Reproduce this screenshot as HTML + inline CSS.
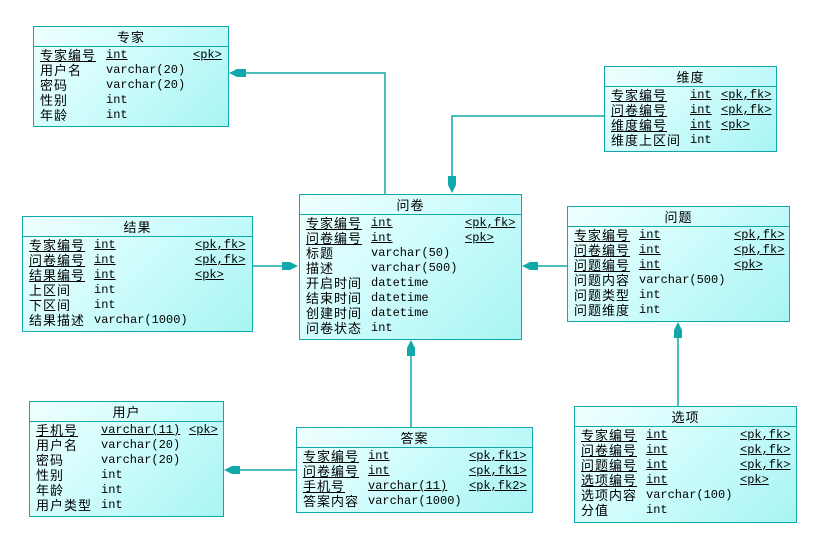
<!DOCTYPE html>
<html><head><meta charset="utf-8">
<style>
body{margin:0;width:820px;height:545px;background:#fff;position:relative;overflow:hidden;font-family:"Liberation Mono","Noto Sans CJK SC",monospace;font-size:12px;color:#000}
.b{position:absolute;border:1px solid #10a8a8;background:linear-gradient(135deg,#f0ffff 0%,#d0fcfc 45%,#a8f4f4 100%);box-sizing:border-box}
.h{height:19px;line-height:19px;text-align:center;border-bottom:1px solid #10a8a8;font-family:"Noto Sans CJK SC",sans-serif;font-size:13px;letter-spacing:1px}
.rs{padding-top:1px}
.r{position:relative;height:15px;line-height:15px;white-space:nowrap}
.r span{position:absolute;top:0;line-height:15px}
.u span{text-decoration:underline}
.r span.n{font-family:"Noto Sans CJK SC",sans-serif;font-size:13px;letter-spacing:1px;top:-2px;line-height:17px}
</style></head><body>
<svg width="820" height="545" style="position:absolute;left:0;top:0">
<g stroke="#10a8a8" stroke-width="1.5" fill="none">
<polyline points="385,194 385,73 232,73"/>
<polyline points="604,116 452,116 452,190"/>
<line x1="252" y1="266" x2="295" y2="266"/>
<line x1="567" y1="266" x2="525" y2="266"/>
<line x1="411" y1="427" x2="411" y2="343"/>
<line x1="296" y1="470" x2="227" y2="470"/>
<line x1="678" y1="407" x2="678" y2="325"/>
</g>
<g fill="#10a8a8">
<polygon points="229,73 237,69 246,69 246,77 237,77"/>
<polygon points="452,193 448,185 448,176 456,176 456,185"/>
<polygon points="298,266 290,262 282,262 282,270 290,270"/>
<polygon points="522,266 530,262 538,262 538,270 530,270"/>
<polygon points="411,340 407,348 407,356 415,356 415,348"/>
<polygon points="224,470 232,466 240,466 240,474 232,474"/>
<polygon points="678,322 674,330 674,338 682,338 682,330"/>
</g>
</svg>

<div class="b" style="left:33px;top:26px;width:196px;height:101px"><div class="h">专家</div><div class="rs">
<div class="r u"><span class="n" style="left:6px">专家编号</span><span style="left:72px">int</span><span style="left:159px">&lt;pk&gt;</span></div>
<div class="r"><span class="n" style="left:6px">用户名</span><span style="left:72px">varchar(20)</span></div>
<div class="r"><span class="n" style="left:6px">密码</span><span style="left:72px">varchar(20)</span></div>
<div class="r"><span class="n" style="left:6px">性别</span><span style="left:72px">int</span></div>
<div class="r"><span class="n" style="left:6px">年龄</span><span style="left:72px">int</span></div>
</div></div>

<div class="b" style="left:604px;top:66px;width:173px;height:86px"><div class="h">维度</div><div class="rs">
<div class="r u"><span class="n" style="left:6px">专家编号</span><span style="left:85px">int</span><span style="left:116px">&lt;pk,fk&gt;</span></div>
<div class="r u"><span class="n" style="left:6px">问卷编号</span><span style="left:85px">int</span><span style="left:116px">&lt;pk,fk&gt;</span></div>
<div class="r u"><span class="n" style="left:6px">维度编号</span><span style="left:85px">int</span><span style="left:116px">&lt;pk&gt;</span></div>
<div class="r"><span class="n" style="left:6px">维度上区间</span><span style="left:85px">int</span></div>
</div></div>

<div class="b" style="left:299px;top:194px;width:223px;height:146px"><div class="h">问卷</div><div class="rs">
<div class="r u"><span class="n" style="left:6px">专家编号</span><span style="left:71px">int</span><span style="left:165px">&lt;pk,fk&gt;</span></div>
<div class="r u"><span class="n" style="left:6px">问卷编号</span><span style="left:71px">int</span><span style="left:165px">&lt;pk&gt;</span></div>
<div class="r"><span class="n" style="left:6px">标题</span><span style="left:71px">varchar(50)</span></div>
<div class="r"><span class="n" style="left:6px">描述</span><span style="left:71px">varchar(500)</span></div>
<div class="r"><span class="n" style="left:6px">开启时间</span><span style="left:71px">datetime</span></div>
<div class="r"><span class="n" style="left:6px">结束时间</span><span style="left:71px">datetime</span></div>
<div class="r"><span class="n" style="left:6px">创建时间</span><span style="left:71px">datetime</span></div>
<div class="r"><span class="n" style="left:6px">问卷状态</span><span style="left:71px">int</span></div>
</div></div>

<div class="b" style="left:22px;top:216px;width:231px;height:116px"><div class="h">结果</div><div class="rs">
<div class="r u"><span class="n" style="left:6px">专家编号</span><span style="left:71px">int</span><span style="left:172px">&lt;pk,fk&gt;</span></div>
<div class="r u"><span class="n" style="left:6px">问卷编号</span><span style="left:71px">int</span><span style="left:172px">&lt;pk,fk&gt;</span></div>
<div class="r u"><span class="n" style="left:6px">结果编号</span><span style="left:71px">int</span><span style="left:172px">&lt;pk&gt;</span></div>
<div class="r"><span class="n" style="left:6px">上区间</span><span style="left:71px">int</span></div>
<div class="r"><span class="n" style="left:6px">下区间</span><span style="left:71px">int</span></div>
<div class="r"><span class="n" style="left:6px">结果描述</span><span style="left:71px">varchar(1000)</span></div>
</div></div>

<div class="b" style="left:567px;top:206px;width:223px;height:116px"><div class="h">问题</div><div class="rs">
<div class="r u"><span class="n" style="left:6px">专家编号</span><span style="left:71px">int</span><span style="left:166px">&lt;pk,fk&gt;</span></div>
<div class="r u"><span class="n" style="left:6px">问卷编号</span><span style="left:71px">int</span><span style="left:166px">&lt;pk,fk&gt;</span></div>
<div class="r u"><span class="n" style="left:6px">问题编号</span><span style="left:71px">int</span><span style="left:166px">&lt;pk&gt;</span></div>
<div class="r"><span class="n" style="left:6px">问题内容</span><span style="left:71px">varchar(500)</span></div>
<div class="r"><span class="n" style="left:6px">问题类型</span><span style="left:71px">int</span></div>
<div class="r"><span class="n" style="left:6px">问题维度</span><span style="left:71px">int</span></div>
</div></div>

<div class="b" style="left:29px;top:401px;width:195px;height:116px"><div class="h">用户</div><div class="rs">
<div class="r u"><span class="n" style="left:6px">手机号</span><span style="left:71px">varchar(11)</span><span style="left:159px">&lt;pk&gt;</span></div>
<div class="r"><span class="n" style="left:6px">用户名</span><span style="left:71px">varchar(20)</span></div>
<div class="r"><span class="n" style="left:6px">密码</span><span style="left:71px">varchar(20)</span></div>
<div class="r"><span class="n" style="left:6px">性别</span><span style="left:71px">int</span></div>
<div class="r"><span class="n" style="left:6px">年龄</span><span style="left:71px">int</span></div>
<div class="r"><span class="n" style="left:6px">用户类型</span><span style="left:71px">int</span></div>
</div></div>

<div class="b" style="left:296px;top:427px;width:237px;height:86px"><div class="h">答案</div><div class="rs">
<div class="r u"><span class="n" style="left:6px">专家编号</span><span style="left:71px">int</span><span style="left:172px">&lt;pk,fk1&gt;</span></div>
<div class="r u"><span class="n" style="left:6px">问卷编号</span><span style="left:71px">int</span><span style="left:172px">&lt;pk,fk1&gt;</span></div>
<div class="r u"><span class="n" style="left:6px">手机号</span><span style="left:71px">varchar(11)</span><span style="left:172px">&lt;pk,fk2&gt;</span></div>
<div class="r"><span class="n" style="left:6px">答案内容</span><span style="left:71px">varchar(1000)</span></div>
</div></div>

<div class="b" style="left:574px;top:406px;width:223px;height:117px"><div class="h">选项</div><div class="rs">
<div class="r u"><span class="n" style="left:6px">专家编号</span><span style="left:71px">int</span><span style="left:165px">&lt;pk,fk&gt;</span></div>
<div class="r u"><span class="n" style="left:6px">问卷编号</span><span style="left:71px">int</span><span style="left:165px">&lt;pk,fk&gt;</span></div>
<div class="r u"><span class="n" style="left:6px">问题编号</span><span style="left:71px">int</span><span style="left:165px">&lt;pk,fk&gt;</span></div>
<div class="r u"><span class="n" style="left:6px">选项编号</span><span style="left:71px">int</span><span style="left:165px">&lt;pk&gt;</span></div>
<div class="r"><span class="n" style="left:6px">选项内容</span><span style="left:71px">varchar(100)</span></div>
<div class="r"><span class="n" style="left:6px">分值</span><span style="left:71px">int</span></div>
</div></div>
</body></html>
